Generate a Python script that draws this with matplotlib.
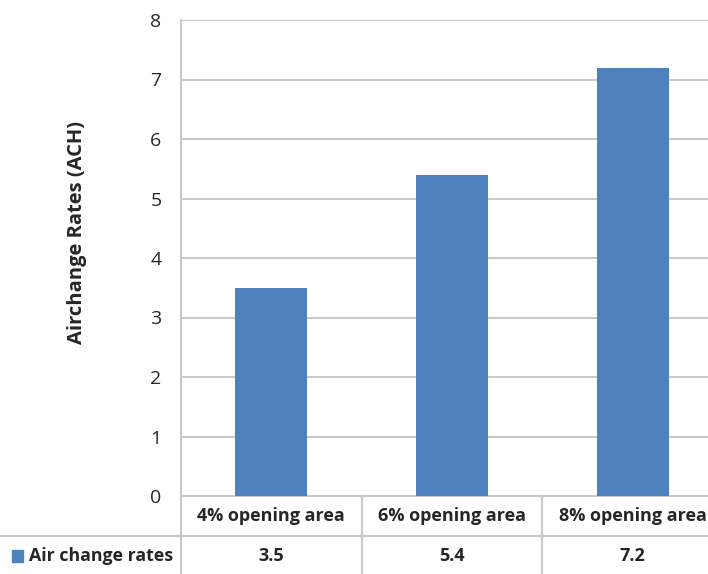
import matplotlib
matplotlib.use("Agg")
import matplotlib.pyplot as plt
from matplotlib.transforms import blended_transform_factory
from matplotlib.patches import Rectangle

categories = ["4% opening area", "6% opening area", "8% opening area"]
series_name = "Air change rates"
values = [3.5, 5.4, 7.2]
y_ticks = [0, 1, 2, 3, 4, 5, 6, 7, 8]

BAR = "#4f81bd"
GRID = "#c9c9c9"
TEXT = "#262626"

plt.rcParams["font.family"] = ["Open Sans", "DejaVu Sans"]

W, H = 708, 574
fig = plt.figure(figsize=(W / 100, H / 100), dpi=100)

# plot area in pixel terms: left axis at x=181, y=8 at 20px, y=0 at 496px
x0, x1 = 181, 723
ytop, ybot = 20, 496
ax = fig.add_axes([x0 / W, (H - ybot) / H, (x1 - x0) / W, (ybot - ytop) / H])

pos = [i + 0.5 for i in range(len(categories))]
ax.bar(pos, values, width=0.4, color=BAR, zorder=3)

ax.set_xlim(0, len(categories))
ax.set_ylim(0, 8)
ax.set_yticks(y_ticks)
ax.set_yticklabels([str(t) for t in y_ticks], fontsize=14, color=TEXT)
ax.tick_params(axis="y", length=0, pad=14)
ax.set_xticks([])
ax.yaxis.grid(True, color=GRID, linewidth=1.5, zorder=0)
for s in ["top", "right", "bottom"]:
    ax.spines[s].set_visible(False)
ax.spines["left"].set_color(GRID)
ax.spines["left"].set_linewidth(1.5)

# axis title, placed slightly above the plot's vertical centre
fig.text(77 / W, (H - 233) / H, "Airchange Rates (ACH)", rotation=90,
         ha="center", va="center", fontsize=14.5, fontweight="bold",
         color=TEXT)

# data table below the axis
tr = blended_transform_factory(ax.transData, fig.transFigure)
y_axis = (H - ybot) / H
y_mid = (H - 536) / H
for i in range(len(categories) + 1):
    ax.plot([i, i], [0, y_axis], transform=tr, color=GRID, lw=1.5,
            clip_on=False, zorder=1)
ax.plot([0, len(categories)], [y_axis, y_axis], transform=tr, color=GRID,
        lw=1.5, clip_on=False)
fig.add_artist(plt.Line2D([0, 1], [y_mid, y_mid], transform=fig.transFigure,
                          color=GRID, lw=1.5))

y_hdr = (H - 516) / H
y_val = (H - 556) / H
for p, c, v in zip(pos, categories, values):
    ax.text(p, y_hdr, c, transform=tr, ha="center", va="center",
            fontsize=13, fontweight="bold", color=TEXT, clip_on=False)
    ax.text(p, y_val, f"{v:g}", transform=tr, ha="center", va="center",
            fontsize=13, fontweight="bold", color=TEXT, clip_on=False)

# legend key for the series row
fig.add_artist(Rectangle((12 / W, (H - 562) / H), 11 / W, 12 / H,
                         transform=fig.transFigure, color=BAR))
fig.text(29 / W, y_val, series_name, ha="left", va="center",
         fontsize=12.8, fontweight="bold", color=TEXT)

fig.savefig("out.png", dpi=100)
